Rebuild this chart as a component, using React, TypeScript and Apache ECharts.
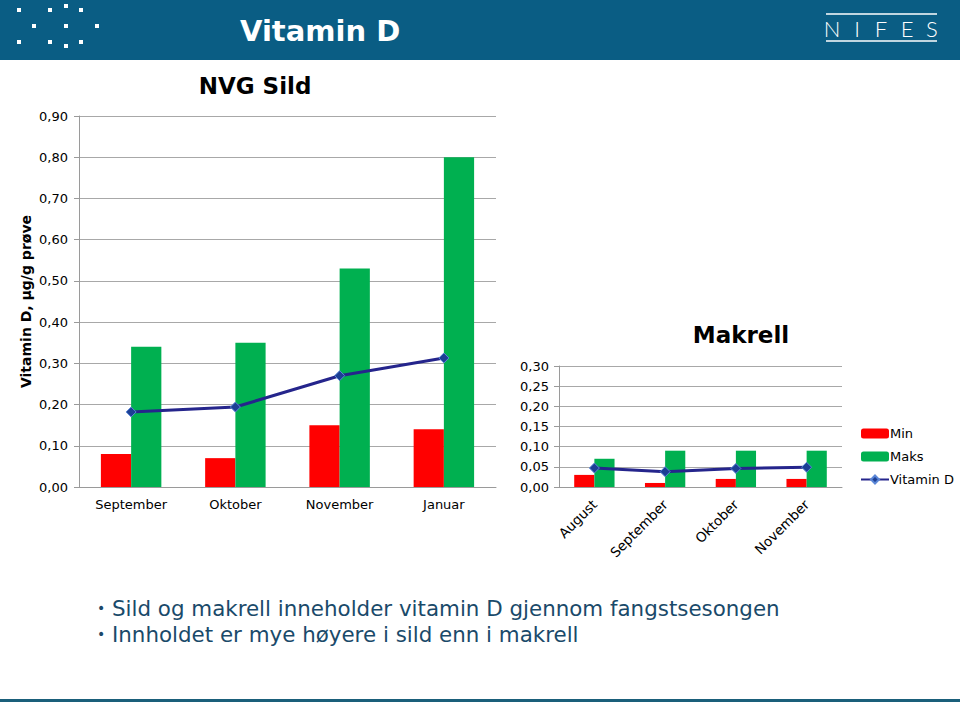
import React, { useEffect, useRef } from "react";
import * as echarts from "echarts";

const herringMonths = ["September", "Oktober", "November", "Januar"];
const herringMin = [0.08, 0.07, 0.15, 0.14];
const herringMax = [0.34, 0.35, 0.53, 0.8];
const herringVitD = [0.182, 0.194, 0.27, 0.313];

const mackerelMonths = ["August", "September", "Oktober", "November"];
const mackerelMin = [0.03, 0.01, 0.02, 0.02];
const mackerelMax = [0.07, 0.09, 0.09, 0.09];
const mackerelVitD = [0.047, 0.038, 0.046, 0.049];

const seriesNames = ["Min", "Maks", "Vitamin D"];
const bullets = [
  "Sild og makrell inneholder vitamin D gjennom fangstsesongen",
  "Innholdet er mye høyere i sild enn i makrell",
];

const FONT = "DejaVu Sans, Verdana, sans-serif";
const RED = "#ff0000";
const GREEN = "#00b050";
const NAVY = "#25258c";
const HEADER = "#0a5d84";

const fmt = (v: number) => v.toFixed(2).replace(".", ",");

export default function App() {
  const ref = useRef<HTMLDivElement>(null);
  useEffect(() => {
    document.body.style.margin = "0";
    const chart = echarts.init(ref.current!, null, { renderer: "svg" });

    const dots = [
      [19, 10], [50, 10], [66, 6], [81, 10],
      [34, 26], [66, 26], [97, 26],
      [19, 42], [50, 42], [66, 46], [81, 42],
    ];
    const nifes = [
      ["N", 832], ["I", 857], ["F", 881], ["E", 907], ["S", 932],
    ];

    const axisLineStyle = { lineStyle: { color: "#9a9a9a", width: 1 } };
    const label = { color: "#000", fontSize: 13, fontFamily: FONT };

    const barBase = { type: "bar", barGap: "0%", barCategoryGap: "42%" };
    const lineBase = {
      type: "line",
      symbol: "diamond",
      symbolSize: 10,
      lineStyle: { color: NAVY, width: 3 },
      itemStyle: { color: "#1c3f94", borderColor: "#5a86d6", borderWidth: 1 },
      z: 5,
    };

    chart.setOption({
      animation: false,
      backgroundColor: "#fff",
      textStyle: { fontFamily: FONT },
      legend: {
        data: seriesNames,
        orient: "vertical",
        left: 855,
        top: 422,
        itemWidth: 28,
        itemHeight: 10,
        itemGap: 10,
        textStyle: { fontSize: 13, color: "#000", fontFamily: FONT, padding: [0, 0, 0, -4] },
      },
      grid: [
        { left: 79, right: 464, top: 116, bottom: 215 },
        { left: 559, right: 118, top: 366, bottom: 215 },
      ],
      xAxis: [
        {
          type: "category",
          gridIndex: 0,
          data: herringMonths,
          axisLine: axisLineStyle,
          axisTick: { show: false },
          axisLabel: { ...label, margin: 11 },
        },
        {
          type: "category",
          gridIndex: 1,
          data: mackerelMonths,
          axisLine: axisLineStyle,
          axisTick: { show: false },
          axisLabel: { ...label, fontSize: 13.5, rotate: 45, margin: 15 },
        },
      ],
      yAxis: [
        {
          type: "value",
          gridIndex: 0,
          min: 0,
          max: 0.9,
          interval: 0.1,
          axisLine: { show: true, ...axisLineStyle },
          axisTick: { show: true, length: 5, lineStyle: { color: "#9a9a9a" } },
          splitLine: { lineStyle: { color: "#a8a8a8" } },
          axisLabel: { ...label, margin: 11, formatter: fmt },
          name: "Vitamin D, µg/g prøve",
          nameLocation: "middle",
          nameGap: 46,
          nameRotate: 90,
          nameTextStyle: { fontSize: 14, fontWeight: "bold", color: "#000", fontFamily: FONT },
        },
        {
          type: "value",
          gridIndex: 1,
          min: 0,
          max: 0.3,
          interval: 0.05,
          axisLine: { show: true, ...axisLineStyle },
          axisTick: { show: true, length: 5, lineStyle: { color: "#9a9a9a" } },
          splitLine: { lineStyle: { color: "#a8a8a8" } },
          axisLabel: { ...label, margin: 10, formatter: fmt },
        },
      ],
      series: [
        { ...barBase, name: "Min", xAxisIndex: 0, yAxisIndex: 0, data: herringMin, itemStyle: { color: RED } },
        { ...barBase, name: "Maks", xAxisIndex: 0, yAxisIndex: 0, data: herringMax, itemStyle: { color: GREEN } },
        { ...lineBase, name: "Vitamin D", xAxisIndex: 0, yAxisIndex: 0, data: herringVitD },
        { ...barBase, barCategoryGap: "43%", name: "Min", xAxisIndex: 1, yAxisIndex: 1, data: mackerelMin, itemStyle: { color: RED } },
        { ...barBase, barCategoryGap: "43%", name: "Maks", xAxisIndex: 1, yAxisIndex: 1, data: mackerelMax, itemStyle: { color: GREEN } },
        { ...lineBase, name: "Vitamin D", xAxisIndex: 1, yAxisIndex: 1, data: mackerelVitD },
      ],
      graphic: [
        { type: "rect", shape: { x: 0, y: 0, width: 960, height: 60 }, style: { fill: HEADER }, z: 0 },
        ...dots.map(([x, y]) => ({
          type: "rect",
          shape: { x: x - 2, y: y - 2, width: 4, height: 4 },
          style: { fill: "#ffffff" },
          z: 1,
        })),
        {
          type: "text",
          x: 240,
          y: 31,
          style: { text: "Vitamin D", fill: "#fff", font: `bold 29px ${FONT}`, textVerticalAlign: "middle" },
          z: 1,
        },
        { type: "line", shape: { x1: 826, y1: 14, x2: 937, y2: 14 }, style: { stroke: "#fff", lineWidth: 1.5 }, z: 1 },
        { type: "line", shape: { x1: 826, y1: 41, x2: 937, y2: 41 }, style: { stroke: "#fff", lineWidth: 1.5 }, z: 1 },
        ...nifes.map(([t, x]) => ({
          type: "text",
          x: x as number,
          y: 28,
          style: {
            text: t as string,
            fill: "#fff",
            font: `300 22px Lato, ${FONT}`,
            textAlign: "center",
            textVerticalAlign: "middle",
          },
          z: 1,
        })),
        {
          type: "text",
          x: 255,
          y: 86,
          style: { text: "NVG Sild", fill: "#000", font: `bold 23px ${FONT}`, textAlign: "center", textVerticalAlign: "middle" },
        },
        {
          type: "text",
          x: 741,
          y: 335,
          style: { text: "Makrell", fill: "#000", font: `bold 23px ${FONT}`, textAlign: "center", textVerticalAlign: "middle" },
        },
        ...bullets.flatMap((b, i) => [
          {
            type: "text",
            x: 97,
            y: 608 + i * 26,
            style: { text: "•", fill: "#1a4a6a", font: `14px ${FONT}`, textVerticalAlign: "middle" },
          },
          {
            type: "text",
            x: 112,
            y: 608 + i * 26,
            style: { text: b, fill: "#1a4a6a", font: `21.4px ${FONT}`, textVerticalAlign: "middle" },
          },
        ]),
        { type: "rect", shape: { x: 0, y: 699, width: 960, height: 3 }, style: { fill: "#1a5f7a" } },
      ],
    });
    return () => chart.dispose();
  }, []);
  return <div ref={ref} style={{ width: 960, height: 702 }} />;
}
